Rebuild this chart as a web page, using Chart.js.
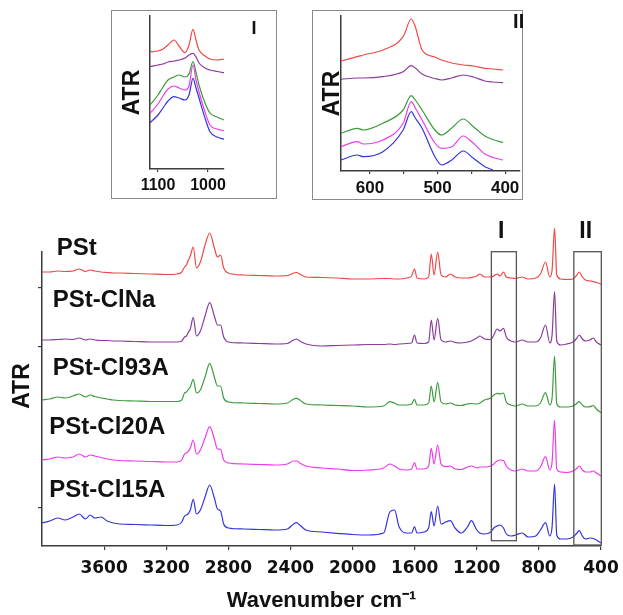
<!DOCTYPE html>
<html>
<head>
<meta charset="utf-8">
<script src="https://cdn.jsdelivr.net/npm/chart.js@4.4.0/dist/chart.umd.min.js"></script>
<style>
  html, body { margin: 0; padding: 0; background: #fff; }
  body { width: 623px; height: 615px; position: relative; overflow: hidden; }
  canvas, .inset-frame { position: absolute; }
  .inset-frame { border: 1.5px solid #8a8a8a; box-sizing: border-box; }
</style>
</head>
<body>
<div class="inset-frame" style="left:111px;top:10px;width:166px;height:189px"></div>
<div class="inset-frame" style="left:312px;top:10px;width:211px;height:190px"></div>
<canvas id="mainChart" width="623" height="615" style="left:0;top:0"></canvas>
<canvas id="insetOne" width="165" height="188" style="left:111px;top:10px"></canvas>
<canvas id="insetTwo" width="211" height="190" style="left:312px;top:10px"></canvas>
<script>
// sample names, top to bottom
var sampleNames = ['PSt', 'PSt-ClNa', 'PSt-Cl93A', 'PSt-Cl20A', 'PSt-Cl15A'];

// main spectra (wavenumber cm-1, stacked ATR values)
var mainWavenumbers = [4000, 3950, 3900, 3850, 3800, 3760, 3720, 3690, 3660, 3620,
  3580, 3540, 3500, 3400, 3300, 3200, 3130, 3100, 3082, 3070,
  3060, 3045, 3026, 3005, 2980, 2950, 2920, 2890, 2870, 2850,
  2830, 2800, 2700, 2600, 2500, 2420, 2380, 2360, 2340, 2300,
  2200, 2100, 2000, 1900, 1800, 1760, 1730, 1700, 1650, 1620,
  1601, 1585, 1540, 1510, 1493, 1475, 1452, 1430, 1400, 1370,
  1340, 1300, 1260, 1235, 1200, 1180, 1150, 1110, 1090, 1069,
  1050, 1028, 1010, 980, 950, 907, 870, 820, 790, 757,
  730, 715, 699, 685, 660, 620, 580, 560, 540, 520,
  500, 470, 450, 430, 400];
var pstMain = [274, 274, 275, 274.5, 275, 277, 274.5, 276, 275, 274,
  273.5, 273, 273, 272.5, 272, 271.5, 272, 274, 279, 281,
  285, 290, 299, 278, 284, 301, 313, 298, 289, 291,
  278, 273, 271, 270.5, 270, 270.5, 273, 273.5, 272, 269,
  268.5, 268, 267, 267, 267.5, 267.5, 267, 267, 268, 270,
  277, 268, 267, 269, 292, 271, 294, 271, 269, 272,
  269, 268, 268, 268.5, 270, 272, 269, 269, 270, 272,
  270, 274, 269, 268, 267.5, 269, 267, 268, 272, 284,
  269, 276, 318, 271, 267, 266.5, 267, 270, 274, 269,
  266, 265, 264.5, 263.5, 262];
var pstClNaMain = [206, 206, 206.5, 207, 206.5, 208, 206, 207, 206, 205.5,
  205.5, 205, 205, 204.5, 204, 204, 204, 205, 209, 210,
  213, 217, 228.7, 210, 215, 230, 243.3, 230, 221, 221,
  209, 204, 203, 202.5, 202, 202.5, 206, 207, 205, 202,
  200, 200.5, 201, 201.5, 201.5, 202, 201.5, 202, 202.5, 203,
  211, 203, 202.5, 204, 226, 206, 227.7, 206, 204, 205,
  203.5, 203, 204, 205, 208, 210, 207, 206.5, 211, 217,
  215, 217.7, 209, 205, 204, 206, 204, 204, 208, 221,
  203, 211, 254.3, 205, 201, 202, 204, 207, 211, 207,
  205, 206, 208, 204, 201];
var pstCl93AMain = [146, 147, 149, 148, 150, 152, 149, 151, 149.5, 148,
  147, 146, 145.5, 145, 144.5, 144.5, 144.5, 146, 153, 154,
  156, 159, 166.7, 153, 156, 169, 182.7, 169, 160, 160,
  148, 144, 143, 142.5, 142, 143, 147, 147.7, 146, 142,
  141, 140.5, 140, 139, 140, 144.3, 143, 141, 141, 142,
  146.7, 141, 141, 143, 160, 144, 163.7, 144, 142, 143,
  141, 140.5, 142, 142.5, 142, 143, 146, 148, 151, 152.7,
  152, 153, 144, 141, 140, 142, 140, 140, 143, 153.3,
  141, 148, 190, 142, 139, 139, 140, 142, 144.3, 141,
  139, 139.3, 140.5, 137, 133.3];
var pstCl20AMain = [86, 87, 89, 88, 89, 92, 89, 91, 90, 88.5,
  87, 86, 85.5, 85, 84.5, 84, 84, 86, 92, 93,
  94.3, 98, 106, 92, 96, 108, 119.3, 107, 97, 96.7,
  86, 83, 82, 81.5, 81, 82, 85, 85, 83, 80,
  78, 77, 75.5, 76, 78, 82, 80, 77, 76, 77,
  83.3, 77, 77, 80, 97.7, 82, 101, 82, 79.3, 80,
  77, 76.5, 79, 80, 78, 79, 79, 80, 82, 85,
  86, 85.5, 80, 76, 75, 77, 75, 75, 79, 89.3,
  76, 84, 126, 77, 74, 73.5, 75, 77, 80, 76,
  74, 74, 75, 73, 70];
var pstCl15AMain = [23, 25, 28, 26, 29, 32, 27, 31, 28, 29,
  25, 23, 22, 21.5, 21, 20.5, 21, 24, 30, 31,
  32, 36, 46.7, 32, 36, 49, 61, 48, 37, 35,
  22, 18, 17, 16.5, 16, 17, 22, 23.3, 21, 16,
  14, 12.7, 11.5, 11, 13, 34, 36, 19, 13, 13,
  19.3, 13, 14, 18, 34.3, 20, 40, 22, 24, 25.3,
  18, 13, 19, 25.3, 16, 13, 12, 14, 18, 20,
  21, 18, 12, 10, 11, 13, 9, 10, 16, 23.3,
  10, 19, 62, 11, 7, 7, 9, 12, 15.3, 10,
  7, 8, 7.5, 6, 3];
var mainTickValues = [3600, 3200, 2800, 2400, 2000, 1600, 1200, 800, 400];

// inset I (region around 1100-1000 cm-1)
var insetOneWavenumbers = [1116, 1100, 1090, 1080, 1068, 1058, 1046, 1038, 1030, 1024, 1018, 1006, 996, 982, 968];
var pstInsetOne = [117.3, 118, 120, 124, 129, 123, 116.3, 124, 139.7, 129, 119, 113, 110, 109, 110];
var pstClNaInsetOne = [102.3, 104, 105, 107, 108, 109, 111, 114, 115.7, 112, 106, 101, 99, 97.5, 96.3];
var pstCl93AInsetOne = [64, 74, 82, 89, 92, 94, 92, 95, 107.3, 97, 84, 66, 56, 52, 49];
var pstCl20AInsetOne = [55.7, 65, 73, 80, 83, 81, 79, 83, 104, 89, 77, 57, 44, 40, 38.3];
var pstCl15AInsetOne = [46.3, 54, 61, 68, 72.3, 71, 69, 74, 90.7, 81, 71, 51, 37.3, 32, 29.7];
var insetOneTickValues = [1100, 1000];

// inset II (region around 600-400 cm-1)
var insetTwoWavenumbers = [643, 619, 610, 581, 551, 539, 533, 523, 504, 494, 479, 462, 447, 430, 418, 403];
var pstInsetTwo = [110, 114.3, 116, 121, 134.3, 152, 144.3, 121, 114, 111, 108, 106, 105, 102.7, 102, 101];
var pstClNaInsetTwo = [91.7, 93, 93, 94.3, 99.3, 105.3, 103, 97, 92.5, 91, 93, 96, 94, 90, 89, 88.3];
var pstCl93AInsetTwo = [37.7, 42.7, 41, 47.7, 61, 75.3, 71, 61, 41, 36, 43, 52, 44.3, 35, 31.5, 28.3];
var pstCl20AInsetTwo = [24.3, 29.3, 27, 31, 47.7, 69.3, 63, 51, 28, 22.7, 24.3, 35, 27.7, 17, 13.5, 11];
var pstCl15AInsetTwo = [11, 16, 14.3, 19.3, 41, 59.3, 53, 42.7, 14.3, 6, 11, 20, 12.7, 4.3, 1, null];
var insetTwoTickValues = [600, 550, 500, 450, 400];

var seriesColors = ['#f04848', '#8c3c9c', '#3c9c3c', '#ec3cec', '#3434e0'];
var axisColor = '#3c3c3c';

function pairs(xs, ys) {
  return xs.map(function (x, i) { return { x: x, y: ys[i] }; });
}

function makeDatasets(xs, list) {
  return list.map(function (vals, i) {
    return {
      label: sampleNames[i],
      data: pairs(xs, vals),
      borderColor: seriesColors[i],
      borderWidth: 1.2,
      pointRadius: 0,
      cubicInterpolationMode: 'monotone',
      spanGaps: false,
      clip: false
    };
  });
}

// draws frames and text marks, positioned in data units
var marksPlugin = {
  id: 'marks',
  afterDraw: function (chart, args, opts) {
    var ctx = chart.ctx;
    var xs = chart.scales.x;
    var ys = chart.scales.y;
    ctx.save();
    (opts.boxes || []).forEach(function (b) {
      var x0 = xs.getPixelForValue(b.from), x1 = xs.getPixelForValue(b.to);
      var y0 = ys.getPixelForValue(b.top), y1 = ys.getPixelForValue(b.bottom);
      ctx.strokeStyle = '#555';
      ctx.lineWidth = 1.3;
      ctx.strokeRect(Math.min(x0, x1), Math.min(y0, y1), Math.abs(x1 - x0), Math.abs(y1 - y0));
    });
    (opts.texts || []).forEach(function (t) {
      ctx.save();
      ctx.font = t.font;
      ctx.fillStyle = '#111';
      ctx.textAlign = t.align || 'left';
      ctx.textBaseline = t.baseline || 'alphabetic';
      ctx.translate(xs.getPixelForValue(t.x), ys.getPixelForValue(t.y));
      if (t.rotate) ctx.rotate(t.rotate);
      ctx.fillText(t.text, 0, 0);
      ctx.restore();
    });
    ctx.restore();
  }
};

function baseOptions(o) {
  return {
    responsive: false,
    animation: false,
    devicePixelRatio: 1,
    layout: { padding: o.padding },
    plugins: { legend: { display: false }, tooltip: { enabled: false }, marks: o.marks },
    scales: {
      x: {
        type: 'linear', min: o.xMin, max: o.xMax, reverse: true,
        afterFit: function (s) { s.height = o.xHeight; s.paddingLeft = 0; s.paddingRight = 0; },
        afterBuildTicks: function (s) { s.ticks = o.xTicks.map(function (v) { return { value: v }; }); },
        grid: { drawOnChartArea: false, tickLength: o.tickLength, color: axisColor, lineWidth: 1.2 },
        border: { color: axisColor, width: 1.5 },
        ticks: {
          font: o.tickFont, color: '#111', padding: o.tickPadding,
          maxRotation: 0, autoSkip: false, callback: o.tickLabel
        },
        title: o.xTitle || { display: false }
      },
      y: {
        type: 'linear', min: 0, max: o.yMax,
        afterFit: function (s) { s.width = o.yWidth; s.paddingTop = 0; s.paddingBottom = 0; },
        afterBuildTicks: function (s) { s.ticks = (o.yTicks || []).map(function (v) { return { value: v }; }); },
        ticks: { display: false },
        grid: { display: !!o.yTicks, drawOnChartArea: false, tickLength: 4, color: axisColor, lineWidth: 1.2 },
        border: { color: axisColor, width: 1.5 },
        title: {
          display: o.yTitlePad !== null, text: 'ATR', color: '#111',
          font: { family: 'Liberation Sans', weight: 'bold', size: 23 },
          padding: { top: o.yTitlePad || 0, bottom: 0 }
        }
      }
    }
  };
}

var labelFont = 'bold 24px "Liberation Sans"';

new Chart(document.getElementById('mainChart'), {
  type: 'line',
  data: { datasets: makeDatasets(mainWavenumbers, [pstMain, pstClNaMain, pstCl93AMain, pstCl20AMain, pstCl15AMain]) },
  options: baseOptions({
    padding: { top: 252, right: 22, bottom: 0, left: 0 },
    xMin: 400, xMax: 4000, xHeight: 69, xTicks: mainTickValues,
    tickLength: 4, tickPadding: 8,
    tickFont: { family: 'DejaVu Sans', weight: 'bold', size: 17 },
    tickLabel: function (v) { return String(v); },
    xTitle: {
      display: true, text: 'Wavenumber cm\u207B\u00B9', color: '#111',
      font: { family: 'Liberation Sans', weight: 'bold', size: 22 },
      padding: { top: 0, bottom: 1 }
    },
    yMax: 294, yWidth: 42, yTicks: [38, 199, 258], yTitlePad: null,
    marks: {
      boxes: [
        { from: 1106, to: 945, top: 294.3, bottom: 5.3 },
        { from: 575, to: 398, top: 294.3, bottom: 1 }
      ],
      texts: [
        { text: 'ATR', x: 4122, y: 160, font: 'bold 23px "Liberation Sans"', align: 'center', baseline: 'middle', rotate: -Math.PI / 2 },
        { text: sampleNames[0], x: 3905, y: 291, font: labelFont },
        { text: sampleNames[1], x: 3931, y: 238.7, font: labelFont },
        { text: sampleNames[2], x: 3931, y: 171, font: labelFont },
        { text: sampleNames[3], x: 3953, y: 111.7, font: labelFont },
        { text: sampleNames[4], x: 3953, y: 49.3, font: labelFont },
        { text: 'I', x: 1042, y: 314.3, font: 'bold 23px "Liberation Sans"', align: 'center', baseline: 'middle' },
        { text: 'II', x: 499, y: 314.3, font: 'bold 23px "Liberation Sans"', align: 'center', baseline: 'middle' }
      ]
    }
  }),
  plugins: [marksPlugin]
});

new Chart(document.getElementById('insetOne'), {
  type: 'line',
  data: { datasets: makeDatasets(insetOneWavenumbers, [pstInsetOne, pstClNaInsetOne, pstCl93AInsetOne, pstCl20AInsetOne, pstCl15AInsetOne]) },
  options: baseOptions({
    padding: { top: 6, right: 52, bottom: 0, left: 0 },
    xMin: 968, xMax: 1116, xHeight: 29, xTicks: insetOneTickValues,
    tickLength: 3, tickPadding: 4,
    tickFont: { family: 'Liberation Sans', weight: 'bold', size: 16 },
    tickLabel: function (v) { return String(v); },
    yMax: 153, yWidth: 39, yTitlePad: 8,
    marks: {
      texts: [{ text: 'I', x: 908, y: 140, font: 'bold 18px "Liberation Sans"', align: 'center', baseline: 'middle' }]
    }
  }),
  plugins: [marksPlugin]
});

new Chart(document.getElementById('insetTwo'), {
  type: 'line',
  data: { datasets: makeDatasets(insetTwoWavenumbers, [pstInsetTwo, pstClNaInsetTwo, pstCl93AInsetTwo, pstCl20AInsetTwo, pstCl15AInsetTwo]) },
  options: baseOptions({
    padding: { top: 6, right: 3, bottom: 0, left: 0 },
    xMin: 378, xMax: 643, xHeight: 29, xTicks: insetTwoTickValues,
    tickLength: 3, tickPadding: 4,
    tickFont: { family: 'Liberation Sans', weight: 'bold', size: 17 },
    tickLabel: function (v) { return v % 100 === 0 ? String(v) : ''; },
    yMax: 155, yWidth: 29, yTitlePad: 7,
    marks: {
      texts: [{ text: 'II', x: 380, y: 149, font: 'bold 20px "Liberation Sans"', align: 'center', baseline: 'middle' }]
    }
  }),
  plugins: [marksPlugin]
});
</script>
</body>
</html>
